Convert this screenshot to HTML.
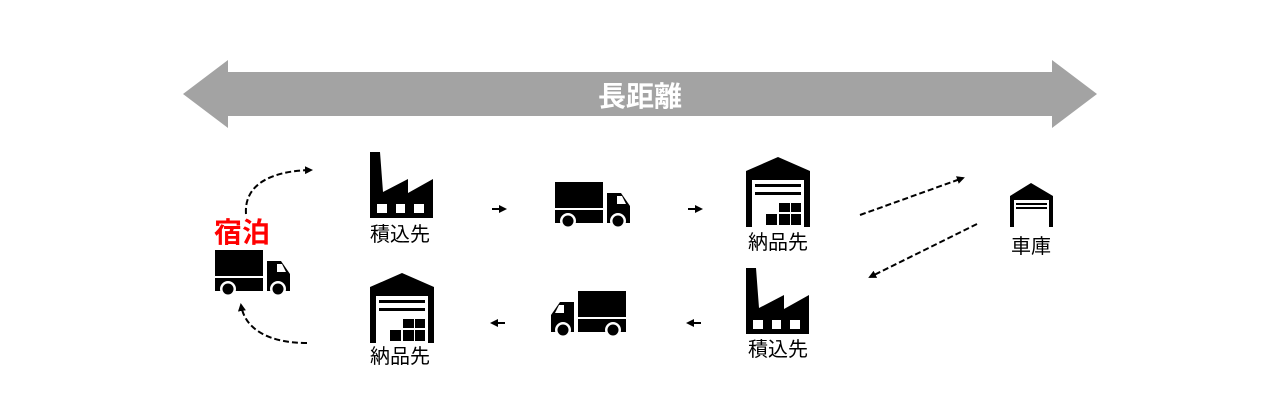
<!DOCTYPE html>
<html><head><meta charset="utf-8"><style>
html,body{margin:0;padding:0;background:#fff;}
svg{display:block}
text{font-family:"Liberation Sans","Noto Sans CJK JP",sans-serif;}
</style></head><body>
<svg width="1280" height="420" viewBox="0 0 1280 420" xmlns="http://www.w3.org/2000/svg">
<defs>
<marker id="ah" markerWidth="8" markerHeight="8" refX="6" refY="4" orient="auto" markerUnits="userSpaceOnUse"><path d="M0,0 L8,4 L0,8 Z" fill="#000"/></marker>
<g id="fac">
<path d="M0,0 L10,0 L13,40 L38,27 L38,41 L63,27 L63,66 L0,66 Z" fill="#000"/>
<rect x="7" y="52" width="10" height="9" fill="#fff"/>
<rect x="26" y="52" width="9" height="9" fill="#fff"/>
<rect x="44" y="52" width="10" height="9" fill="#fff"/>
</g>
<g id="wh">
<path d="M0,14 L32,0 L64,14 L64,70 L58,70 L58,23 L6,23 L6,70 L0,70 Z" fill="#000"/>
<rect x="9" y="27" width="46" height="3" fill="#000"/>
<rect x="9" y="35" width="46" height="3" fill="#000"/>
<rect x="33" y="46" width="11" height="9" fill="#000"/>
<rect x="45" y="46" width="10" height="9" fill="#000"/>
<rect x="20" y="57" width="11" height="11" fill="#000"/>
<rect x="33" y="57" width="11" height="11" fill="#000"/>
<rect x="45" y="57" width="10" height="11" fill="#000"/>
</g>
<g id="truck">
<rect x="0" y="0" width="48" height="26" fill="#000"/>
<rect x="0" y="28" width="48" height="13" fill="#000"/>
<path d="M52,11 L66,11 L75,24 L75,41 L52,41 Z" fill="#000"/>
<path d="M62,14 L67,14 L71,22 L62,22 Z" fill="#fff"/>
<circle cx="13" cy="39" r="8" fill="#fff"/><circle cx="13" cy="39" r="5.5" fill="#000"/>
<circle cx="63" cy="39" r="8" fill="#fff"/><circle cx="63" cy="39" r="5.5" fill="#000"/>
</g>
</defs>
<path d="M183,94 L228,60 L228,72 L1052,72 L1052,60 L1097,94 L1052,128 L1052,116 L228,116 L228,128 Z" fill="#a3a3a3"/>
<text x="640" y="106" font-size="28" font-weight="bold" fill="#fff" text-anchor="middle">長距離</text>

<use href="#fac" x="370" y="152"/>
<text x="400" y="241" font-size="20" text-anchor="middle">積込先</text>
<use href="#truck" x="555" y="182"/>
<use href="#wh" x="746" y="157"/>
<text x="778" y="249" font-size="20" text-anchor="middle">納品先</text>
<path d="M1010,196 L1031,183 L1053,196 L1053,227 L1049,227 L1049,200 L1014,200 L1014,227 L1010,227 Z" fill="#000"/>
<rect x="1016" y="203" width="31" height="2" fill="#000"/><rect x="1016" y="207" width="31" height="2" fill="#000"/>
<text x="1031" y="253" font-size="20" text-anchor="middle">車庫</text>

<text x="242" y="242" font-size="28" font-weight="bold" fill="#f00" text-anchor="middle">宿泊</text>
<use href="#truck" x="215" y="250"/>

<use href="#wh" x="370" y="273"/>
<text x="400" y="363" font-size="20" text-anchor="middle">納品先</text>
<use href="#truck" transform="translate(626,291) scale(-1,1)"/>
<use href="#fac" x="746" y="268"/>
<text x="778" y="356" font-size="20" text-anchor="middle">積込先</text>

<g stroke="#000" stroke-width="2" fill="none">
<line x1="492" y1="209" x2="505" y2="209" marker-end="url(#ah)"/>
<line x1="688" y1="209" x2="701" y2="209" marker-end="url(#ah)"/>
<line x1="505" y1="323" x2="492" y2="323" marker-end="url(#ah)"/>
<line x1="701" y1="323" x2="688" y2="323" marker-end="url(#ah)"/>
<g stroke-dasharray="6,3">
<path d="M246,214 C244,185 270,171 311,170" marker-end="url(#ah)"/>
<path d="M307,343 C270,343 245,330 241,305" marker-end="url(#ah)"/>
<line x1="860" y1="215" x2="963" y2="178" marker-end="url(#ah)"/>
<line x1="977" y1="224" x2="870" y2="277" marker-end="url(#ah)"/>
</g>
</g>
</svg>
</body></html>
